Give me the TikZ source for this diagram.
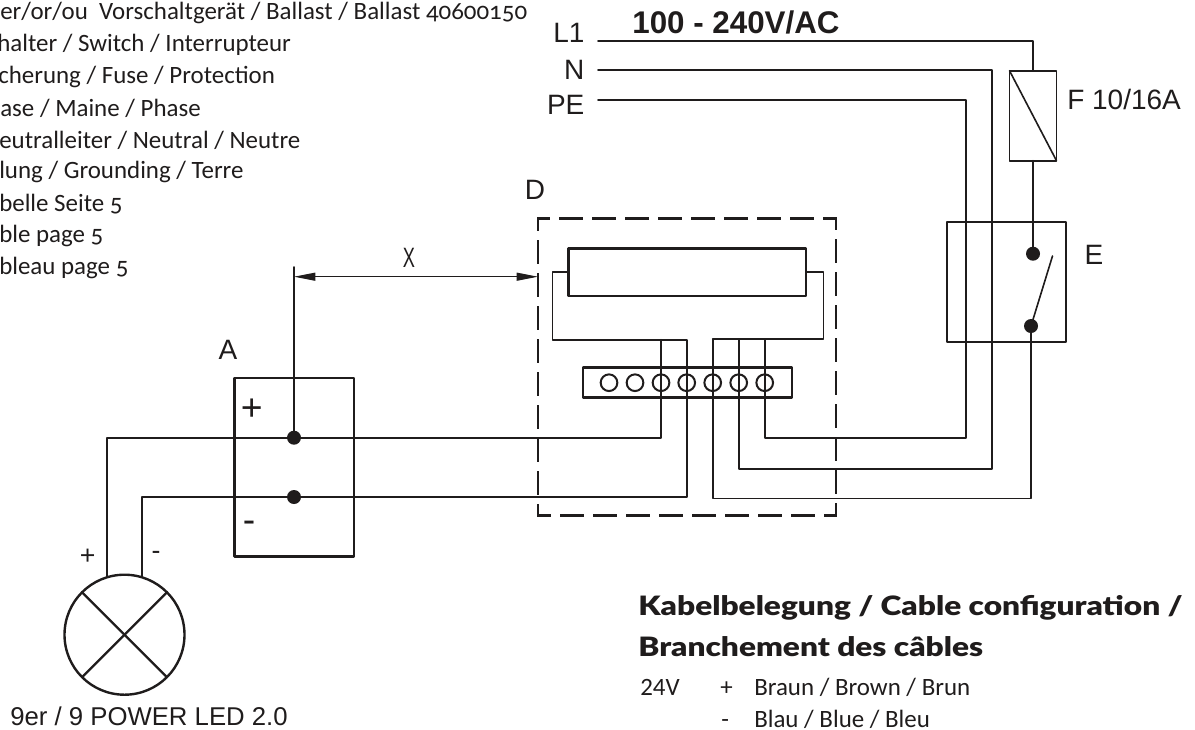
\documentclass[tikz,border=0pt]{standalone}
\usepackage{fontspec}
\setmainfont{Liberation Sans}
\newfontfamily\listfont[Numbers=OldStyle]{Carlito}
\newfontfamily\headfont{Lato Black}
\usetikzlibrary{calc}
\usetikzlibrary{arrows.meta}
\tikzset{
  wire/.style={line width=1.2pt,color=lineblk},
  heavy/.style={draw=lineblk,line width=1.8pt,inner sep=0pt,outer sep=0pt},
  pin/.style={circle,heavy,line width=1.5pt,minimum size=12.5pt},
  dot/.style={circle,fill=lineblk,inner sep=0pt,outer sep=0pt,minimum size=10.5pt},
  dashside/.style={draw=lineblk,line width=1.8pt,line cap=rect,dash pattern=on 16.2pt off 8.55pt,dash phase=8.1pt},
  lab/.style={inner sep=0pt,text=lineblk,font=\fontsize{21}{21}\selectfont},
  linelab/.style={lab,anchor=east,inner xsep=10pt},
  listrow/.style={inner sep=0pt,anchor=west,text=lineblk,font=\listfont\fontsize{18.7}{18.7}\selectfont},
  headrow/.style={inner sep=0pt,anchor=west,xscale=1.186,text=lineblk,font=\headfont\fontsize{20}{20}\selectfont}
}
\begin{document}
\begin{tikzpicture}[line cap=round,line join=round,>={Stealth[length=16pt,width=6pt,inset=0pt]},x=0.75pt,y=-0.75pt]
\definecolor{lineblk}{rgb}{0.12,0.11,0.11}
\clip(0,0) rectangle (1195,729);
\useasboundingbox (0,0) rectangle (1195,729);
% legend top left
\node[listrow] (rowa) at (0,13) {er/or/ou\ \ Vorschaltgerät / Ballast / Ballast 40600150};
\node[listrow] (rowb) at (-3,45) {halter / Switch / Interrupteur};
\node[listrow] (rowc) at (-2,77) {cherung / Fuse / Protection};
\node[listrow] (rowd) at (0,108) {ase / Maine / Phase};
\node[listrow] (rowe) at (-1,140) {eutralleiter / Neutral / Neutre};
\node[listrow] (rowf) at (-1,172) {lung / Grounding / Terre};
\node[listrow] (rowg) at (-1,204) {belle Seite 5};
\node[listrow] (rowh) at (-1,236) {ble page 5};
\node[listrow] (rowi) at (-1,268) {bleau page 5};
% boxes
\node[minimum width=223.5pt,minimum height=223pt,inner sep=0pt,outer sep=0pt] (boxd) at (687,367) {};
\foreach \a/\b in {north west/north east,north east/south east,south east/south west,south west/north west}
  \draw[dashside] (boxd.\a) -- (boxd.\b);
\node[heavy,minimum width=178.3pt,minimum height=35.8pt] (tube) at (687.2,272.2) {};
\node[heavy,minimum width=156.75pt,minimum height=22.5pt] (strip) at (687.2,382.3) {};
\node[heavy,minimum width=89.8pt,minimum height=133.7pt] (boxa) at (294.2,467.2) {};
\node[heavy,minimum width=89.5pt,minimum height=90pt] (boxe) at (1006.4,281.7) {};
\node[heavy,line width=1.4pt,minimum width=35.25pt,minimum height=67.5pt] (fuse) at (1033,115.7) {};
\node[heavy,circle,minimum size=90pt] (lamp) at (124.5,634.7) {};
\draw[wire] (fuse.north west) -- (fuse.south east);
\draw[heavy] (lamp.north west) -- (lamp.south east);
\draw[heavy] (lamp.north east) -- (lamp.south west);
% dots and bends
\node[dot] (dotp) at (294,437.7) {};
\node[dot] (dotm) at (294,497) {};
\node[dot] (swt) at (1033,253.7) {};
\node[dot] (swb) at (1031,326) {};
\coordinate (swend) at (1052.5,256);
\coordinate (bendl) at (552.3,339.7);
\coordinate (bendr) at (823.3,339);
\coordinate (bendl1) at (1031,498.3);
\coordinate (bendn) at (992,468.7);
\coordinate (bendpe) at (966,437.7);
\coordinate (lampp) at (107,577);
\coordinate (lampm) at (142,577);
\coordinate (dimtop) at (294,267);
\coordinate (dimend) at (538,276.7);
% pins
\foreach \i/\x in {1/609,2/635,3/661,4/686.7,5/712.7,6/738.7,7/764.7}
  \node[pin] (p\i) at (\x,382.7) {};
% mains
\node[linelab] (l1) at (598,33) {L1};
\node[linelab] (n) at (598,70) {N};
\node[linelab] (pe) at (598,105) {PE};
\draw[wire] (598,41) -| (fuse.north);
\draw[wire] (n.east) -| (bendn) -| (p6.center) -- (p6.center |- bendr);
\draw[wire] (598,100) -| (bendpe) -| (p7.center) -- (p7.center |- bendr);
\draw[wire] (fuse.south) -- (swt.center);
\draw[wire] (swb.center) -- (swend);
\draw[wire] (swb.center) -- (bendl1) -| (p5.center) -- (p5.center |- bendr);
% tube to strip
\draw[wire] (tube.west) -| (bendl) -| (p4.center) |- (dotm.center) -| (lampm);
\draw[wire] (tube.east) -| (bendr) -- (p5.center |- bendr);
\draw[wire] (p3.center |- bendl) -- (p3.center) |- (dotp.center) -| (lampp);
% dimension
\draw[wire] (dimtop) -- (dotp.center);
\draw[wire,<->,line width=0.8pt] (dimtop |- dimend) -- (dimend);
% labels
\node[lab] (laba) at (228,350) {A};
\node[lab] (labd) at (535,190) {D};
\node[lab] (labe) at (1094,255) {E};
\node[lab,anchor=west] (labf) at (1067,99) {F 10/16A};
\node[lab,xscale=0.65] (labx) at (409,258) {X};
\node[lab,font=\fontsize{23.5}{23.5}\selectfont\bfseries] (volt) at (736,22) {100 - 240V/AC};
\node[lab,font=\fontsize{28}{28}\selectfont] (plusa) at (251.7,409.3) {+};
\node[lab,font=\fontsize{28}{28}\selectfont] (minusa) at (249,526.7) {-};
\node[lab,font=\fontsize{20}{20}\selectfont] (plusl) at (87.7,556.7) {+};
\node[lab,font=\fontsize{20}{20}\selectfont] (minusl) at (156,555) {-};
\node[lab,anchor=west,font=\fontsize{19.3}{19.3}\selectfont] (name) at (10,716) {9er / 9 POWER LED 2.0};
% cable table
\node[headrow] (heada) at (638,608) {Kabelbelegung / Cable configuration /};
\node[headrow] (headb) at (638,647) {Branchement des câbles};
\node[listrow,font=\listfont\addfontfeature{Numbers=Lining}\fontsize{18.7}{18.7}\selectfont] (volts) at (640,687) {24V};
\node[listrow] (plusc) at (720,689) {+};
\node[listrow] (minusc) at (721,724) {-};
\node[listrow] (brown) at (754,687) {Braun / Brown / Brun};
\node[listrow] (blue) at (754,719) {Blau / Blue / Bleu};
\end{tikzpicture}
\end{document}
